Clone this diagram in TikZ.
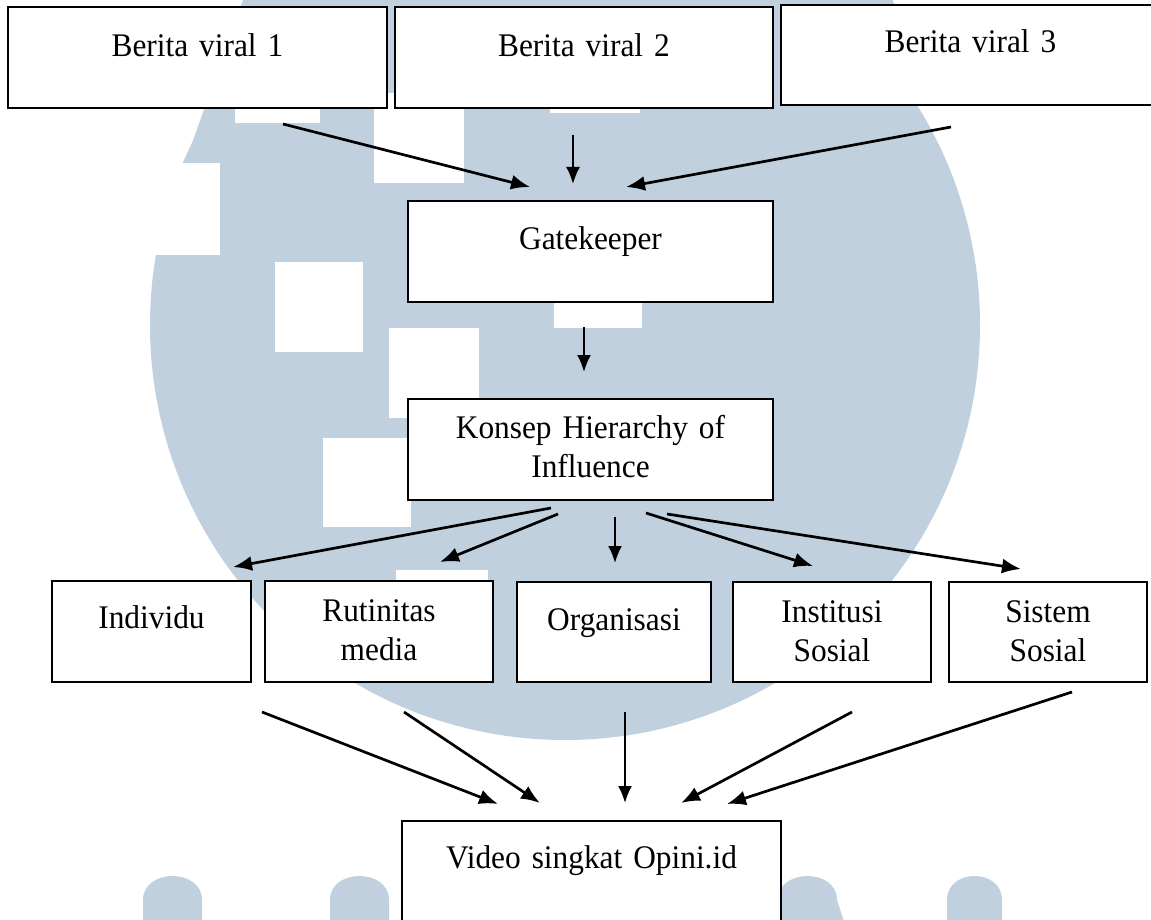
\documentclass[tikz,border=0pt]{standalone}
\usepackage{fontspec}
\newfontfamily\tnr[FakeStretch=0.95]{Liberation Serif}
\usetikzlibrary{arrows.meta}
\definecolor{wm}{RGB}{193,208,222}
\tikzset{
  box/.style={draw, line width=2.8pt, fill=white, inner xsep=0pt, inner ysep=0pt,
    anchor=base, execute at begin node={\centering},
    font=\tnr\fontsize{33}{39.5}\selectfont},
  arr/.style={line width=2.7pt, -{Latex[length=19pt,width=15pt]}},
  varr/.style={line width=2.1pt, -{Latex[length=17pt,width=14pt]}}
}
\begin{document}
\begin{tikzpicture}[x=1pt,y=-1pt]
\useasboundingbox (0,0) rectangle (1151,920);
\clip (0,0) rectangle (1151,920);
\fill[white] (0,0) rectangle (1151,920);
% watermark
\fill[wm] (565,325) circle[radius=415];
\fill[wm] (243,0) -- (185,163) -- (565,163) -- (565,0) -- cycle;
\fill[wm] (565,0) -- (893,0) -- (917,105) -- (565,105) -- cycle;
\fill[white] (0,163) rectangle (220,255);
\fill[white] (235,35) rectangle (320,123);
\fill[white] (374,93) rectangle (464,183);
\fill[white] (550,20) rectangle (640,113);
\fill[white] (275,262) rectangle (363,352);
\fill[white] (389,328) rectangle (479,418);
\fill[white] (554,238) rectangle (642,328);
\fill[white] (323,438) rectangle (411,527);
\fill[white] (396,570) rectangle (488,660);
\fill[wm] (143,940) -- (143,900) .. controls (143,868) and (202,868) .. (202,900) -- (202,940) -- cycle;
\fill[wm] (330,940) -- (330,900) .. controls (330,868) and (389,868) .. (389,900) -- (389,940) -- cycle;
\fill[wm] (778,940) -- (778,900) .. controls (778,868) and (837,868) .. (837,900) -- (850,940) -- cycle;
\fill[wm] (947,940) -- (947,900) .. controls (947,868) and (1002,868) .. (1002,900) -- (1002,940) -- cycle;

% boxes
\node[box, text width=379pt, text height=50pt, text depth=51pt] (b1) at (197.5,57) {Berita viral 1};
\node[box, text width=378pt, text height=50pt, text depth=51pt] (b2) at (584,57) {Berita viral 2};
\node[box, text width=379pt, text height=48pt, text depth=52pt] (b3) at (970.5,53) {Berita viral 3};
\node[box, text width=365pt, text height=49pt, text depth=52pt] (gk) at (590.5,250) {Gatekeeper};
\node[box, text width=365pt, text height=39pt, text depth=62pt] (ko) at (590.5,438) {Konsep Hierarchy of\\Influence};
\node[box, text width=199pt, text height=47pt, text depth=54pt] (ind) at (151.5,628) {Individu};
\node[box, text width=228pt, text height=40pt, text depth=61pt] (rut) at (379,621) {Rutinitas\\media};
\node[box, text width=194pt, text height=48pt, text depth=52pt] (org) at (614,630) {Organisasi};
\node[box, text width=198pt, text height=40pt, text depth=60pt] (ins) at (832,622) {Institusi\\Sosial};
\node[box, text width=198pt, text height=40pt, text depth=60pt] (sis) at (1048,622) {Sistem\\Sosial};
\node[box, text width=379pt, text height=47pt, text depth=72pt] (vid) at (591.5,868) {Video singkat Opini.id};

% connector end points
\coordinate (a1s) at (283,124); \coordinate (a1e) at (530,187);
\coordinate (a2s) at (573,135); \coordinate (a2e) at (573,184);
\coordinate (a3s) at (951,127); \coordinate (a3e) at (626,187);
\coordinate (gs) at (584,327);  \coordinate (ge) at (584,372);
\coordinate (k1s) at (551,508); \coordinate (k1e) at (233,567);
\coordinate (k2s) at (558,514); \coordinate (k2e) at (440,562);
\coordinate (k3s) at (615,517); \coordinate (k3e) at (615,563);
\coordinate (k4s) at (646,513); \coordinate (k4e) at (813,566);
\coordinate (k5s) at (667,514); \coordinate (k5e) at (1021,569);
\coordinate (v1s) at (262,712); \coordinate (v1e) at (498,804);
\coordinate (v2s) at (404,712); \coordinate (v2e) at (540,803);
\coordinate (v3s) at (625,712); \coordinate (v3e) at (625,803);
\coordinate (v4s) at (852,712); \coordinate (v4e) at (681,803);
\coordinate (v5s) at (1072,692); \coordinate (v5e) at (727,804);

\draw[arr] (a1s) -- (a1e);
\draw[varr] (a2s) -- (a2e);
\draw[arr] (a3s) -- (a3e);
\draw[varr] (gs) -- (ge);
\draw[arr] (k1s) -- (k1e);
\draw[arr] (k2s) -- (k2e);
\draw[varr] (k3s) -- (k3e);
\draw[arr] (k4s) -- (k4e);
\draw[arr] (k5s) -- (k5e);
\draw[arr] (v1s) -- (v1e);
\draw[arr] (v2s) -- (v2e);
\draw[varr] (v3s) -- (v3e);
\draw[arr] (v4s) -- (v4e);
\draw[arr] (v5s) -- (v5e);
\end{tikzpicture}
\end{document}
